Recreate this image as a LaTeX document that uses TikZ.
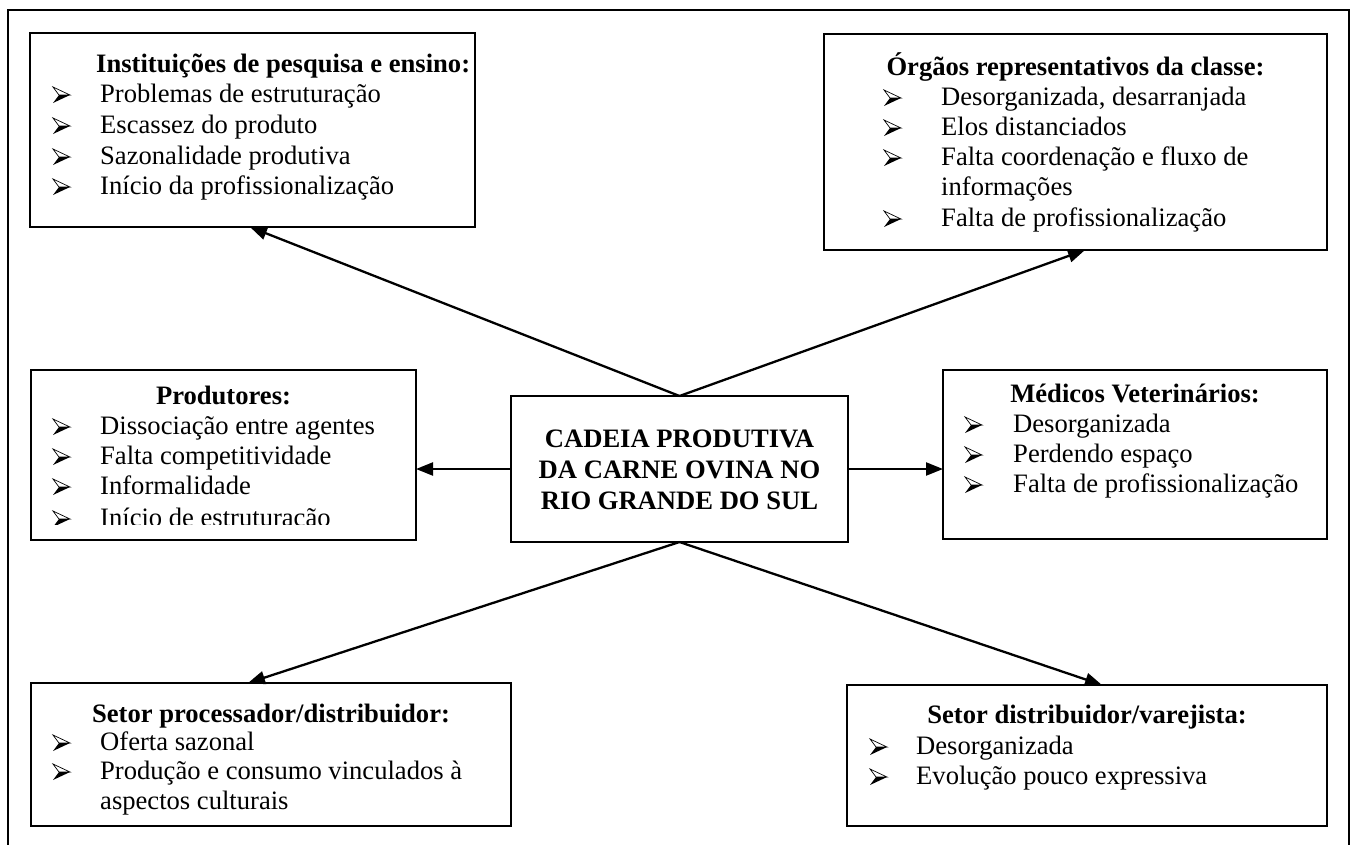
\documentclass[tikz,border=0pt]{standalone}
\usepackage{fontspec}
\setmainfont{Liberation Serif}
\usetikzlibrary{arrows.meta,calc}
\newcommand\szf{\fontsize{26.6}{30.6}\selectfont}
\tikzset{
 box/.style={draw, line width=2.8pt, inner sep=0pt, outer sep=0pt, rectangle},
 conn/.style={line width=2.3pt, -{Triangle[length=17pt,width=13pt]}},
 ttl/.style={font=\szf\bfseries, anchor=base, inner sep=0pt},
 ttlw/.style={font=\szf\bfseries, anchor=base west, inner sep=0pt},
 itm/.style={font=\szf, anchor=base west, inner sep=0pt},
 cen/.style={font=\szf\bfseries, anchor=base, inner sep=0pt},
}
\newcommand\mybul[2]{%
  \draw[line width=0.7pt, line join=miter] (#1,#2-15) -- (#1+17,#2-7) -- (#1+6,#2-7) -- cycle;
  \fill (#1+6,#2-7) -- (#1+17,#2-7) -- (#1,#2+1) -- cycle;}
\begin{document}
\begin{tikzpicture}[x=1pt,y=-1pt]
\useasboundingbox (0,0) rectangle (1351,844);
\fill[white] (0,0) rectangle (1351,844);
% outer frame
\draw[line width=2pt] (8,846) -- (8,10) -- (1349,10) -- (1349,846);

% boxes
\node[box, minimum width=445, minimum height=194] (B1) at (252.5,130) {};
\node[box, minimum width=503, minimum height=216] (B2) at (1075.5,142) {};
\node[box, minimum width=385, minimum height=170] (B3) at (223.5,455) {};
\node[box, minimum width=337, minimum height=146] (C) at (679.5,469) {};
\node[box, minimum width=384, minimum height=169] (B4) at (1135,454.5) {};
\node[box, minimum width=480, minimum height=143] (B5) at (271,754.5) {};
\node[box, minimum width=480, minimum height=141] (B6) at (1087,755.5) {};

% center text
\node[cen] (c1) at (679.5,447) {CADEIA PRODUTIVA};
\node[cen] (c2) at (679.5,478) {DA CARNE OVINA NO};
\node[cen] (c3) at (679.5,509) {RIO GRANDE DO SUL};

% B1
\node[ttlw] (t1) at (96,72) {Instituições de pesquisa e ensino:};
\node[itm] (b1a) at (100,102) {Problemas de estruturação};
\node[itm] (b1b) at (100,133) {Escassez do produto};
\node[itm] (b1c) at (100,164) {Sazonalidade produtiva};
\node[itm] (b1d) at (100,194) {Início da profissionalização};
\mybul{53}{102}\mybul{53}{133}\mybul{53}{164}\mybul{53}{194}

% B2
\node[ttl] (t2) at (1075.5,75) {Órgãos representativos da classe:};
\node[itm] (b2a) at (941,105) {Desorganizada, desarranjada};
\node[itm] (b2b) at (941,135) {Elos distanciados};
\node[itm] (b2c) at (941,165) {Falta coordenação e fluxo de};
\node[itm] (b2d) at (941,195) {informações};
\node[itm] (b2e) at (941,226) {Falta de profissionalização};
\mybul{884}{105}\mybul{884}{135}\mybul{884}{165}\mybul{884}{226}

% B3
\node[ttl] (t3) at (223.5,404) {Produtores:};
\node[itm] (b3a) at (100,434) {Dissociação entre agentes};
\node[itm] (b3b) at (100,464) {Falta competitividade};
\node[itm] (b3c) at (100,494) {Informalidade};
\begin{scope}
\clip (31,500) rectangle (416,524);
\node[itm] (b3d) at (100,526) {Início de estruturação};
\mybul{53}{526}
\end{scope}
\mybul{53}{434}\mybul{53}{464}\mybul{53}{494}

% B4
\node[ttl] (t4) at (1135,402) {Médicos Veterinários:};
\node[itm] (b4a) at (1013,432) {Desorganizada};
\node[itm] (b4b) at (1013,462) {Perdendo espaço};
\node[itm] (b4c) at (1013,492) {Falta de profissionalização};
\mybul{965}{432}\mybul{965}{462}\mybul{965}{492}

% B5
\node[ttl] (t5) at (271,722) {Setor processador/distribuidor:};
\node[itm] (b5a) at (100,750) {Oferta sazonal};
\node[itm] (b5b) at (100,779) {Produção e consumo vinculados à};
\node[itm] (b5c) at (100,809) {aspectos culturais};
\mybul{53}{750}\mybul{53}{779}

% B6
\node[ttl] (t6) at (1087,723) {Setor distribuidor/varejista:};
\node[itm] (b6a) at (916,754) {Desorganizada};
\node[itm] (b6b) at (916,784) {Evolução pouco expressiva};
\mybul{870}{754}\mybul{870}{784}

% connectors
\draw[conn] (C.north) -- (B1.south -| 250,0);
\draw[conn] (C.north) -- (B2.south -| 1085,0);
\draw[conn] (C.west) -- (C.west -| B3.east);
\draw[conn] (C.east) -- (C.east -| B4.west);
\draw[conn] (C.south) -- (B5.north -| 248,0);
\draw[conn] (C.south) -- (B6.north -| 1102,0);
\end{tikzpicture}
\end{document}
